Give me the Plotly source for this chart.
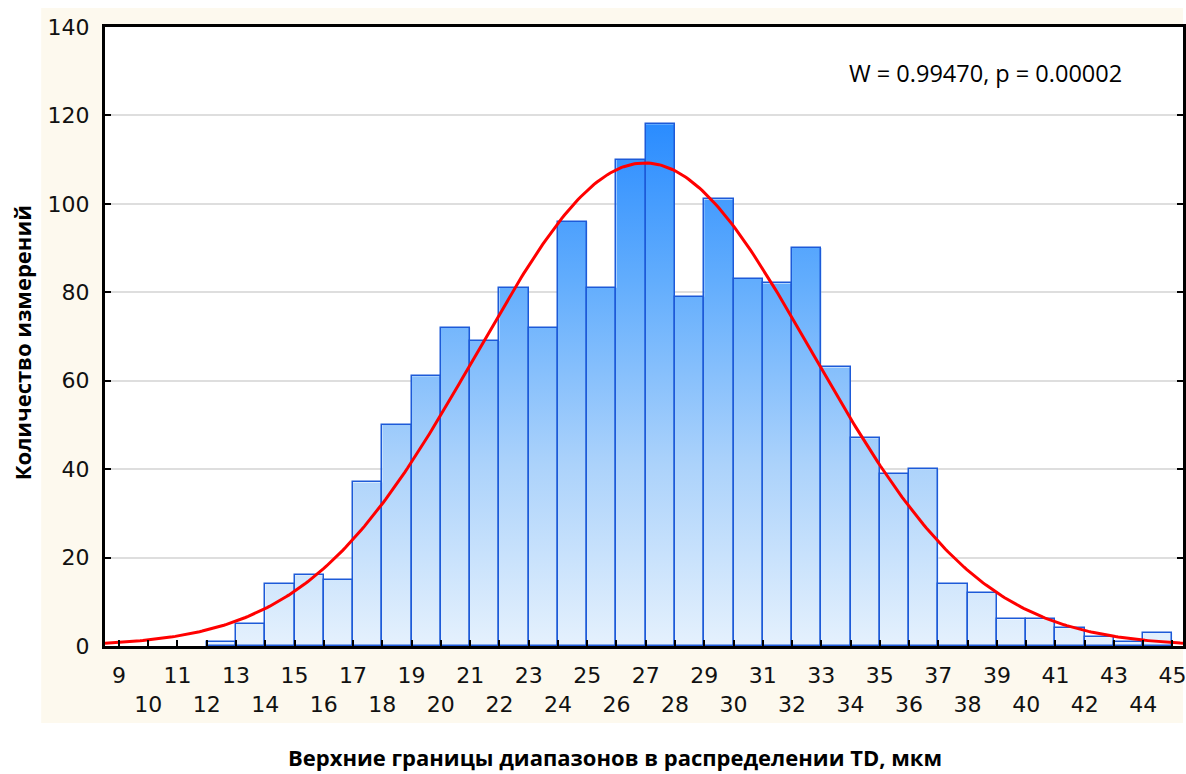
import numpy as np
import plotly.graph_objects as go

# Histogram: upper bin boundaries (µm) and number of measurements per bin
upper_bounds = list(range(13, 46))
counts = [1, 5, 14, 16, 15, 37, 50, 61, 72, 69, 81, 72, 96, 81, 110, 118,
          79, 101, 83, 82, 90, 63, 47, 39, 40, 14, 12, 6, 6, 4, 2, 1, 3]
tick_values = list(range(9, 46))
y_ticks = list(range(0, 141, 20))
stats_text = "W = 0.99470, p = 0.00002"
x_title = "Верхние границы диапазонов в распределении TD, мкм"
y_title = "Количество измерений"

W, H = 1186, 774
L, R, T, B = 105, 0, 27, 128
PW, PH = W - L - R, H - T - B
X_RANGE = [8.523, 45.36]
Y_RANGE = [0, 140]


def px_x(p):
    return (p - L) / PW


def px_y(p):
    return (H - B - p) / PH


ub = np.array(upper_bounds, dtype=float)
cnt = np.array(counts, dtype=float)
lo = ub - 1.0
mid = ub - 0.5

# Step outline of the histogram used for the gradient fill
sx, sy = [lo[0]], [0.0]
for a, b, c in zip(lo, ub, cnt):
    sx += [a, b]
    sy += [c, c]
sx.append(ub[-1])
sy.append(0.0)

# Normal curve fitted to the binned data
n = cnt.sum()
mu = (mid * cnt).sum() / n
sd = np.sqrt(((mid - mu) ** 2 * cnt).sum() / (n - 1))
cx = np.linspace(X_RANGE[0], X_RANGE[1], 400)
cy = n * 1.0 / (sd * np.sqrt(2 * np.pi)) * np.exp(-0.5 * ((cx - mu) / sd) ** 2)

fig = go.Figure()

# gradient body of the bars (base subplot)
fig.add_trace(go.Scatter(
    x=sx, y=sy, mode="lines", fill="toself", line=dict(width=0),
    fillgradient=dict(
        type="vertical", start=0, stop=float(cnt.max()),
        colorscale=[[0.0, "#e5f1fd"], [0.35, "#abd2fb"],
                    [0.7, "#62adfd"], [1.0, "#2a8cff"]],
    ),
    hoverinfo="skip", showlegend=False,
))

# bar outlines and fitted curve on an overlaid subplot so they sit on top
fig.add_trace(go.Bar(
    x=mid, y=cnt, width=1.0, xaxis="x2", yaxis="y2",
    marker=dict(color="rgba(0,0,0,0)", line=dict(color="#1d5ad8", width=1.5)),
    showlegend=False,
))

fig.add_trace(go.Scatter(
    x=cx, y=cy, mode="lines", line=dict(color="#ff0000", width=3),
    xaxis="x2", yaxis="y2", showlegend=False, hoverinfo="skip",
))

ticktext = [str(v) if v % 2 else "<br>" + str(v) for v in tick_values]

axis_font = dict(family="DejaVu Sans", size=22, color="#111111")

fig.update_layout(
    xaxis=dict(
        range=X_RANGE, tickmode="array", tickvals=tick_values, ticktext=ticktext,
        ticks="inside", ticklen=6, tickwidth=2, tickcolor="#000000",
        showline=True, linecolor="#000000", linewidth=3, mirror=True,
        showgrid=False, zeroline=False, tickfont=axis_font, tickangle=0,
        ticklabelstandoff=8, ticklabeloverflow="allow",
    ),
    yaxis=dict(
        range=Y_RANGE, tickmode="array", tickvals=y_ticks,
        ticks="inside", ticklen=6, tickwidth=2, tickcolor="#000000",
        showline=True, linecolor="#000000", linewidth=3, mirror="ticks",
        showgrid=True, gridcolor="#dedede", gridwidth=1.5, zeroline=False,
        tickfont=axis_font, ticklabelstandoff=8,
    ),
    xaxis2=dict(range=X_RANGE, overlaying="x", visible=False, showgrid=False,
                zeroline=False),
    yaxis2=dict(range=Y_RANGE, overlaying="y", visible=False, showgrid=False,
                zeroline=False),
)

cream = "#fdf9ee"
shapes = [
    dict(type="rect", xref="paper", yref="paper", layer="below",
         x0=px_x(41), x1=px_x(L), y0=px_y(723), y1=px_y(8),
         fillcolor=cream, line=dict(width=0)),
    dict(type="rect", xref="paper", yref="paper", layer="below",
         x0=px_x(L), x1=1.0, y0=1.0, y1=px_y(8),
         fillcolor=cream, line=dict(width=0)),
    dict(type="rect", xref="paper", yref="paper", layer="below",
         x0=px_x(L), x1=1.0, y0=px_y(723), y1=0.0,
         fillcolor=cream, line=dict(width=0)),
]

annotations = [
    dict(text=stats_text, xref="paper", yref="paper", x=px_x(849), y=px_y(73),
         xanchor="left", yanchor="middle", showarrow=False,
         font=dict(family="Open Sans", size=23.5, color="#000000")),
    dict(text="<b>" + x_title + "</b>", xref="paper", yref="paper",
         x=px_x(616), y=px_y(757), xanchor="center", yanchor="middle",
         showarrow=False, font=dict(family="Open Sans", size=22, color="#000000")),
    dict(text="<b>" + y_title + "</b>", xref="paper", yref="paper",
         x=px_x(22), y=px_y(343), xanchor="center", yanchor="middle",
         textangle=-90, showarrow=False,
         font=dict(family="Open Sans", size=22, color="#000000")),
]

fig.update_layout(
    width=W, height=H, margin=dict(l=L, r=R, t=T, b=B, pad=0),
    paper_bgcolor="#ffffff", plot_bgcolor="#ffffff",
    bargap=0, shapes=shapes, annotations=annotations, showlegend=False,
)

fig.write_html("out.html")
